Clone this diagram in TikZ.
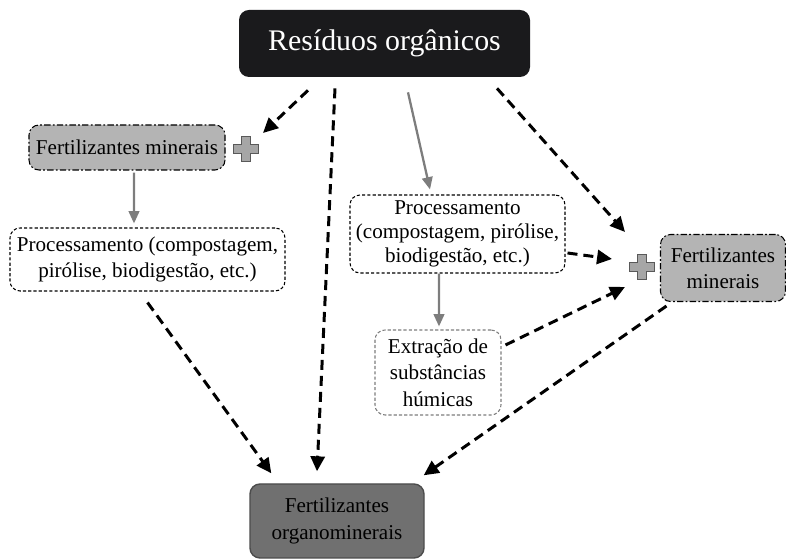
\documentclass[tikz,border=0pt]{standalone}
\usepackage{fontspec}
\setmainfont{Liberation Serif}
\usetikzlibrary{arrows.meta, calc}
\definecolor{residue-color}{RGB}{26,26,28}
\definecolor{mineral-color}{RGB}{180,180,180}
\definecolor{organo-color}{RGB}{112,112,112}
\definecolor{arrow-gray}{RGB}{125,125,125}

\begin{document}
\begin{tikzpicture}[
    box/.style={rounded corners=0.2cm, align=center, inner sep=1pt, font=\fontsize{12}{15}\selectfont},
    procbox/.style={box, draw=black, line width=0.6pt, dash pattern=on 1.8pt off 1.2pt, fill=white},
    mineralbox/.style={box, draw=black, line width=0.6pt, dash pattern=on 3.6pt off 1.3pt on 1pt off 1.3pt, fill=mineral-color},
    darr/.style={-{Triangle[length=8.5pt,width=8pt]}, line width=1.7pt, dash pattern=on 5.7pt off 3.4pt},
    garr/.style={-{Triangle[length=7pt,width=6pt]}, line width=1.3pt, arrow-gray},
    plusnode/.style={inner sep=0pt, minimum size=0.3cm},
    plusmark/.style={draw=black!65, double=gray!70, double distance=5pt, line width=0.6pt, line cap=rect}
]
    \useasboundingbox (0,0) rectangle (15.72,11.18);

    % Source box
    \node[box, fill=residue-color, text=white, font=\fontsize{17}{20}\selectfont, minimum width=5.82cm, minimum height=1.34cm] (top) at (7.69,10.31) {Resíduos orgânicos};

    % Left branch
    \node[mineralbox, minimum width=3.92cm, minimum height=0.9cm] (fmL) at (2.54,8.23) {Fertilizantes minerais};
    \node[plusnode] (plusL) at (4.92,8.20) {};
    \draw[plusmark] (plusL.north) -- (plusL.south) (plusL.west) -- (plusL.east);
    \node[procbox, minimum width=5.5cm, minimum height=1.26cm] (procL) at (2.95,5.99) {Processamento (compostagem,\\pirólise, biodigestão, etc.)};

    % Middle branch
    \node[procbox, font=\fontsize{12}{13.5}\selectfont, minimum width=4.3cm, minimum height=1.56cm] (procM) at (9.15,6.50) {Processamento\\(compostagem, pirólise,\\biodigestão, etc.)};
    \node[box, draw=arrow-gray, line width=0.6pt, dash pattern=on 1.8pt off 1.2pt, fill=white, minimum width=2.52cm, minimum height=1.7cm] (extr) at (8.76,3.73) {Extração de\\substâncias\\húmicas};

    % Right branch
    \node[plusnode] (plusR) at (12.84,5.84) {};
    \draw[plusmark] (plusR.north) -- (plusR.south) (plusR.west) -- (plusR.east);
    \node[mineralbox, minimum width=2.5cm, minimum height=1.34cm] (fmR) at (14.46,5.82) {Fertilizantes\\minerais};

    % Product
    \node[box, draw=black!70, line width=0.8pt, fill=organo-color, minimum width=3.48cm, minimum height=1.48cm] (org) at (6.74,0.76) {Fertilizantes\\organominerais};

    % Connectors
    \draw[darr] ($(top.south)+(-1.53,-0.26)$) -- ($(plusL)+(0.34,0.32)$);
    \draw[darr] ($(top.south)+(-0.99,-0.22)$) -- ($(org.north)+(-0.4,0.24)$);
    \draw[garr] ($(top.south)+(0.47,-0.30)$) -- ($(procM.north)+(-0.55,0.1)$);
    \draw[darr] ($(top.south)+(2.25,-0.22)$) -- ($(plusR)+(-0.34,0.70)$);

    \draw[garr] ($(fmL.south)+(0.14,-0.04)$) -- ($(procL.north)+(-0.27,0.08)$);
    \draw[darr] ($(procL.south)+(0,-0.22)$) -- ($(org.north west)+(0.44,0.2)$);

    \draw[darr] ($(procM.east)+(0.04,-0.38)$) -- ($(plusR)+(-0.6,0.16)$);
    \draw[garr] ($(procM.south)+(-0.37,0)$) -- ($(extr.north)+(0.02,0.06)$);
    \draw[darr] ($(extr.east)+(0.08,0.55)$) -- ($(plusR)+(-0.34,-0.4)$);

    \draw[darr] ($(fmR.south west)+(0.13,-0.08)$) -- ($(org.north east)+(-0.02,0.16)$);
\end{tikzpicture}
\end{document}
